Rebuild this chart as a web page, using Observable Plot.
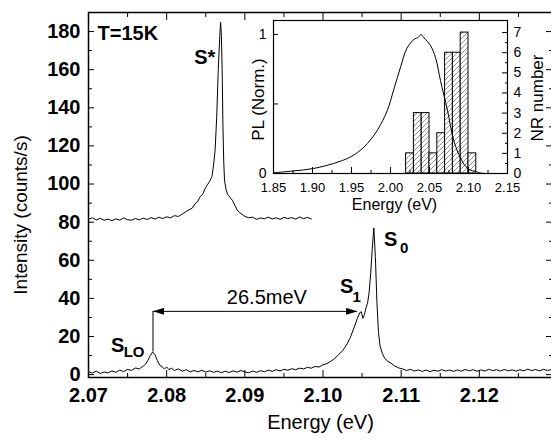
<!DOCTYPE html>
<html><head><meta charset="utf-8">
<script src="https://cdn.jsdelivr.net/npm/d3@7"></script>
<script src="https://cdn.jsdelivr.net/npm/@observablehq/plot@0.6"></script>
<style>
body{margin:0;background:#fff;}
#wrap{position:relative;width:551px;height:442px;overflow:hidden;background:#fff;}
#wrap svg{position:absolute;}
</style></head><body><div id="wrap"></div>
<script>
// ---- Main spectra ----
const starE = [2.0700,2.0705,2.0710,2.0715,2.0720,2.0725,2.0730,2.0735,2.0740,2.0745,2.0750,2.0755,2.0760,2.0765,2.0770,2.0775,2.0780,2.0785,2.0790,2.0795,2.0800,2.0805,2.0810,2.0815,2.0820,2.0825,2.0830,2.0833,2.0836,2.0840,2.0843,2.0846,2.0849,2.0852,2.0855,2.0858,2.0860,2.0862,2.0864,2.0866,2.0868,2.0869,2.0870,2.0871,2.0872,2.0873,2.0874,2.0876,2.0878,2.0881,2.0884,2.0887,2.0890,2.0893,2.0896,2.0900,2.0905,2.0910,2.0915,2.0920,2.0925,2.0930,2.0935,2.0940,2.0945,2.0950,2.0955,2.0960,2.0965,2.0970,2.0975,2.0980,2.0985];
const starI = [81.5,82.3,81.2,82.0,81.0,81.6,80.8,81.7,81.1,82.2,81.3,81.0,81.9,81.2,82.1,81.4,82.4,81.6,82.6,81.9,82.8,82.3,83.4,83.0,84.3,85.6,86.8,87.5,89.5,91.0,93.5,94.5,97.5,99.5,101.5,104,110,118,135,160,178,185,178,160,130,112,102,97,94.5,93,91.5,89,86.5,85.0,84.3,83,82.3,82.6,81.5,82.2,81.8,82.6,81.7,82.3,81.5,82.5,81.9,82.4,81.6,82.7,81.8,82.5,81.7];
const lowE = [2.0700,2.0705,2.0710,2.0715,2.0720,2.0725,2.0730,2.0735,2.0740,2.0745,2.0750,2.0755,2.0760,2.0765,2.0770,2.0773,2.0776,2.0779,2.0782,2.0785,2.0788,2.0791,2.0794,2.0797,2.0800,2.0803,2.0806,2.0810,2.0815,2.0820,2.0825,2.0830,2.0835,2.0840,2.0845,2.0850,2.0855,2.0860,2.0865,2.0870,2.0875,2.0880,2.0885,2.0890,2.0895,2.0900,2.0905,2.0910,2.0915,2.0920,2.0925,2.0930,2.0935,2.0940,2.0945,2.0950,2.0955,2.0960,2.0965,2.0970,2.0975,2.0980,2.0985,2.0990,2.0995,2.1000,2.1005,2.1010,2.1015,2.1020,2.1025,2.1030,2.1035,2.1040,2.1044,2.1047,2.1049,2.1051,2.1053,2.1055,2.1057,2.1059,2.1061,2.1063,2.1065,2.1067,2.1069,2.1071,2.1073,2.1076,2.1079,2.1083,2.1087,2.1092,2.1097,2.1102,2.1107,2.1112,2.1117,2.1122,2.1127,2.1132,2.1137,2.1142,2.1147,2.1152,2.1157,2.1162,2.1167,2.1172,2.1177,2.1182,2.1187,2.1192,2.1197,2.1202,2.1207,2.1212,2.1217,2.1222,2.1227,2.1232,2.1237,2.1242,2.1247,2.1252,2.1257,2.1262,2.1267,2.1272,2.1277,2.1282,2.1287,2.1292,2.1297];
const lowI = [1.5,0.8,1.9,0.6,1.4,0.9,2.0,1.2,2.4,1.6,2.8,2.2,3.5,3.0,4.5,5.5,7.5,10,11.8,10.5,7.5,5,4.2,3.0,4.0,2.6,3.4,2.2,3.0,1.8,2.6,1.4,2.2,1.5,2.3,1.3,2.0,1.2,1.9,1.0,1.8,1.1,2.0,1.3,2.2,1.4,1.0,1.9,1.2,2.1,1.5,2.4,1.7,2.6,1.9,2.8,2.3,3.1,2.6,3.4,3.0,3.8,3.4,4.3,4.0,5.2,5.8,7.0,8.5,10.5,12.5,15.5,19.5,25.0,29.5,32.5,33.0,29.5,31.5,35.0,37.5,43,53,66,77,62,38,22,15,11,8.5,7,6,4.5,3.5,3.0,2.2,2.8,1.9,2.5,1.7,2.4,1.6,2.3,1.8,2.6,1.9,2.4,1.7,2.5,1.8,2.7,2.0,2.6,1.8,2.5,1.9,2.8,2.1,2.6,1.9,2.7,2.0,2.5,1.8,2.6,2.0,2.9,2.1,2.7,2.0,2.8,2.2,2.6,2.1];

// ---- Annotations ----
const gapE = [2.07825, 2.10436];      // S_LO and S_1 ends of the 26.5 meV arrow
const gapLevel = 33.2;
const sloPeak = 11.8;
const gapText = "26.5meV";
const gapTextE = 2.09282, gapTextI = 40.4;
const tempText = "T=15K", tempE = 2.07115, tempI = 179;
const peakText = ["S*", "S", "S", "S"];
const peakE = [2.08487, 2.10865, 2.10304, 2.07372];
const peakI = [166.3, 71.1, 46.4, 15.2];
const subText = ["0", "1", "LO"];
const subE = [2.11038, 2.10430, 2.07583];
const subI = [66.6, 40.4, 11.8];

// ---- Inset data ----
const plE = [1.85,1.875,1.9014,1.927,1.949,1.966,1.983,1.996,2.004,2.013,2.021,2.030,2.036,2.039,2.043,2.051,2.058,2.064,2.073,2.081,2.090,2.099,2.111,2.120];
const plI = [0.005,0.018,0.036,0.072,0.12,0.19,0.31,0.455,0.60,0.767,0.90,0.964,0.98,1.0,0.975,0.923,0.827,0.67,0.455,0.24,0.108,0.036,0.01,0.0];
const binStart = [2.02,2.03,2.04,2.05,2.06,2.07,2.08,2.09,2.10];
const nrCount = [1,3,3,1,2,6,6,7,1];
const binWidth = 0.01;

// ---- Ticks ----
const mainXMajor = [2.07,2.08,2.09,2.10,2.11,2.12,2.13];
const mainXMinor = [2.075,2.085,2.095,2.105,2.115,2.125];
const mainYMajor = [0,20,40,60,80,100,120,140,160,180];
const mainYMinor = [10,30,50,70,90,110,130,150,170];
const insXMajor = [1.85,1.90,1.95,2.00,2.05,2.10,2.15];
const insXMinor = [1.875,1.925,1.975,2.025,2.075,2.125];
const plTicks = [0,0.5,1], plLabels = [0,1];
const nrMajor = [0,1,2,3,4,5,6,7];
const nrMinor = [0.5,1.5,2.5,3.5,4.5,5.5,6.5];

const FONT = "'Liberation Sans', Arial, Helvetica, sans-serif";
const starData = starE.map((e,i)=>({e, v: starI[i]}));
const lowData = lowE.map((e,i)=>({e, v: lowI[i]}));
const fmt2 = d => d.toFixed(2);
const fmtInt = d => String(d);
const none = () => "";

const main = Plot.plot({
  width: 551, height: 442,
  marginLeft: 88, marginRight: -6, marginTop: 12, marginBottom: 65,
  style: {fontFamily: FONT, background: "white"},
  x: {domain: [2.07, 2.13], label: null},
  y: {domain: [-1.5, 190], label: null},
  marks: [
    Plot.line(starData, {x: "e", y: "v", stroke: "black", strokeWidth: 1}),
    Plot.line(lowData, {x: "e", y: "v", stroke: "black", strokeWidth: 1}),
    Plot.ruleX([gapE[0]], {x: d => d, y1: sloPeak, y2: gapLevel, stroke: "black", strokeWidth: 1}),
    Plot.link([gapE], {x1: d => d[0], x2: d => d[1], y1: gapLevel, y2: gapLevel, stroke: "black", strokeWidth: 1, markerStart: "arrow", markerEnd: "arrow"}),
    Plot.text([gapText], {x: gapTextE, y: gapTextI, text: d => d, fontSize: 20}),
    Plot.text([tempText], {x: tempE, y: tempI, text: d => d, fontSize: 20, fontWeight: "bold", textAnchor: "start"}),
    Plot.text(peakText, {x: (d,i) => peakE[i], y: (d,i) => peakI[i], text: d => d, fontSize: 20, fontWeight: "bold"}),
    Plot.text(subText, {x: (d,i) => subE[i], y: (d,i) => subI[i], text: d => d, fontSize: 15, fontWeight: "bold"}),
    // axes: inward ticks
    Plot.axisX({anchor: "bottom", ticks: mainXMajor, tickSize: -7, tickFormat: none, label: null}),
    Plot.axisX({anchor: "bottom", ticks: mainXMinor, tickSize: -4, tickFormat: none, label: null}),
    Plot.axisX({anchor: "top", ticks: mainXMajor, tickSize: -7, tickFormat: none, label: null}),
    Plot.axisX({anchor: "top", ticks: mainXMinor, tickSize: -4, tickFormat: none, label: null}),
    Plot.axisX({anchor: "bottom", ticks: mainXMajor.slice(0, 6), tickSize: 0, tickPadding: 10, tickFormat: fmt2, fontSize: 20, fontWeight: "bold", label: null}),
    Plot.axisY({anchor: "left", ticks: mainYMajor, tickSize: -6, tickFormat: none, label: null}),
    Plot.axisY({anchor: "left", ticks: mainYMinor, tickSize: -4, tickFormat: none, label: null}),
    Plot.axisY({anchor: "right", ticks: mainYMajor, tickSize: -12, tickFormat: none, label: null}),
    Plot.axisY({anchor: "right", ticks: mainYMinor, tickSize: -9, tickFormat: none, label: null}),
    Plot.axisY({anchor: "left", ticks: mainYMajor, tickSize: 0, tickPadding: 8, tickFormat: fmtInt, fontSize: 20, fontWeight: "bold", label: null}),
    Plot.text(["Intensity (counts/s)"], {frameAnchor: "left", textAnchor: "middle", dx: -68, dy: 20, rotate: -90, fontSize: 19}),
    Plot.text(["Energy (eV)"], {frameAnchor: "bottom", textAnchor: "middle", dx: -2.5, dy: 51, fontSize: 20}),
    Plot.frame({stroke: "black", strokeWidth: 1.5})
  ]
});

const W = 306, H = 210, ML = 28, MR = 44, MT = 10, MB = 47;
const bins = binStart.map((s,i)=>({x1: s, x2: s + binWidth, n: nrCount[i]}));
const plData = plE.map((e,i)=>({e, v: plI[i]}));

const insetBars = Plot.plot({
  width: W, height: H, marginLeft: ML, marginRight: MR, marginTop: MT, marginBottom: MB,
  style: {fontFamily: FONT, background: "transparent"},
  x: {domain: [1.85, 2.15], label: null},
  y: {domain: [0, 7.6], label: null},
  marks: [
    Plot.frame({fill: "white", stroke: null}),
    Plot.rectY(bins, {x1: "x1", x2: "x2", y: "n", fill: "url(#hatch)", stroke: "black", strokeWidth: 1}),
    Plot.axisY({anchor: "right", ticks: nrMajor, tickSize: -6, tickFormat: none, label: null}),
    Plot.axisY({anchor: "right", ticks: nrMinor, tickSize: -3, tickFormat: none, label: null}),
    Plot.axisY({anchor: "right", ticks: nrMajor, tickSize: 0, tickPadding: 6, tickFormat: fmtInt, fontSize: 14, label: null}),
    Plot.axisX({anchor: "bottom", ticks: insXMajor, tickSize: -6, tickFormat: none, label: null}),
    Plot.axisX({anchor: "bottom", ticks: insXMinor, tickSize: -3, tickFormat: none, label: null}),
    Plot.axisX({anchor: "bottom", ticks: insXMajor, tickSize: 0, tickPadding: 9, tickFormat: fmt2, fontSize: 13, label: null}),
    Plot.text(["NR number"], {frameAnchor: "right", textAnchor: "middle", dx: 30, dy: 1, rotate: -90, fontSize: 17}),
    Plot.text(["Energy (eV)"], {frameAnchor: "bottom", textAnchor: "middle", dx: 4, dy: 36, fontSize: 16}),
    Plot.frame({stroke: "black", strokeWidth: 1.2})
  ]
});

const insetPL = Plot.plot({
  width: W, height: H, marginLeft: ML, marginRight: MR, marginTop: MT, marginBottom: MB,
  style: {fontFamily: FONT, background: "transparent"},
  x: {domain: [1.85, 2.15], label: null, axis: null},
  y: {domain: [0, 1.1], label: null},
  marks: [
    Plot.line(plData, {x: "e", y: "v", stroke: "black", strokeWidth: 1, curve: "catmull-rom"}),
    Plot.axisY({anchor: "left", ticks: plTicks, tickSize: -5, tickFormat: none, label: null}),
    Plot.axisY({anchor: "left", ticks: plLabels, tickSize: 0, tickPadding: 7, tickFormat: fmtInt, fontSize: 14, label: null}),
    Plot.text(["PL (Norm.)"], {frameAnchor: "left", textAnchor: "middle", dx: -15, dy: 2.5, rotate: -90, fontSize: 17})
  ]
});

const NS = "http://www.w3.org/2000/svg";
// hatch pattern for histogram
{
  const defs = document.createElementNS(NS, "defs");
  defs.innerHTML = '<pattern id="hatch" patternUnits="userSpaceOnUse" width="5" height="5">' +
    '<rect width="5" height="5" fill="white"/>' +
    '<path d="M-1,1 l2,-2 M0,5 l5,-5 M4,6 l2,-2" stroke="#777" stroke-width="0.8"/></pattern>';
  insetBars.insertBefore(defs, insetBars.firstChild);
}
// filled arrowheads at both ends of the 26.5 meV arrow
{
  const defs = document.createElementNS(NS, "defs");
  defs.innerHTML = '<marker id="ahead" viewBox="0 0 10 10" refX="10" refY="5" markerWidth="11" markerHeight="7" markerUnits="userSpaceOnUse" orient="auto-start-reverse" preserveAspectRatio="none">' +
    '<path d="M0,0L10,5L0,10Z" fill="black" stroke="none"/></marker>';
  main.insertBefore(defs, main.firstChild);
  main.querySelectorAll("[marker-start], [marker-end]").forEach(el => {
    el.setAttribute("marker-start", "url(#ahead)");
    el.setAttribute("marker-end", "url(#ahead)");
  });
}

const wrap = document.getElementById("wrap");
main.style.left = "0px"; main.style.top = "0px";
insetBars.style.left = "245px"; insetBars.style.top = "10px";
insetPL.style.left = "245px"; insetPL.style.top = "10px";
wrap.appendChild(main);
wrap.appendChild(insetBars);
wrap.appendChild(insetPL);
</script>
</body></html>
